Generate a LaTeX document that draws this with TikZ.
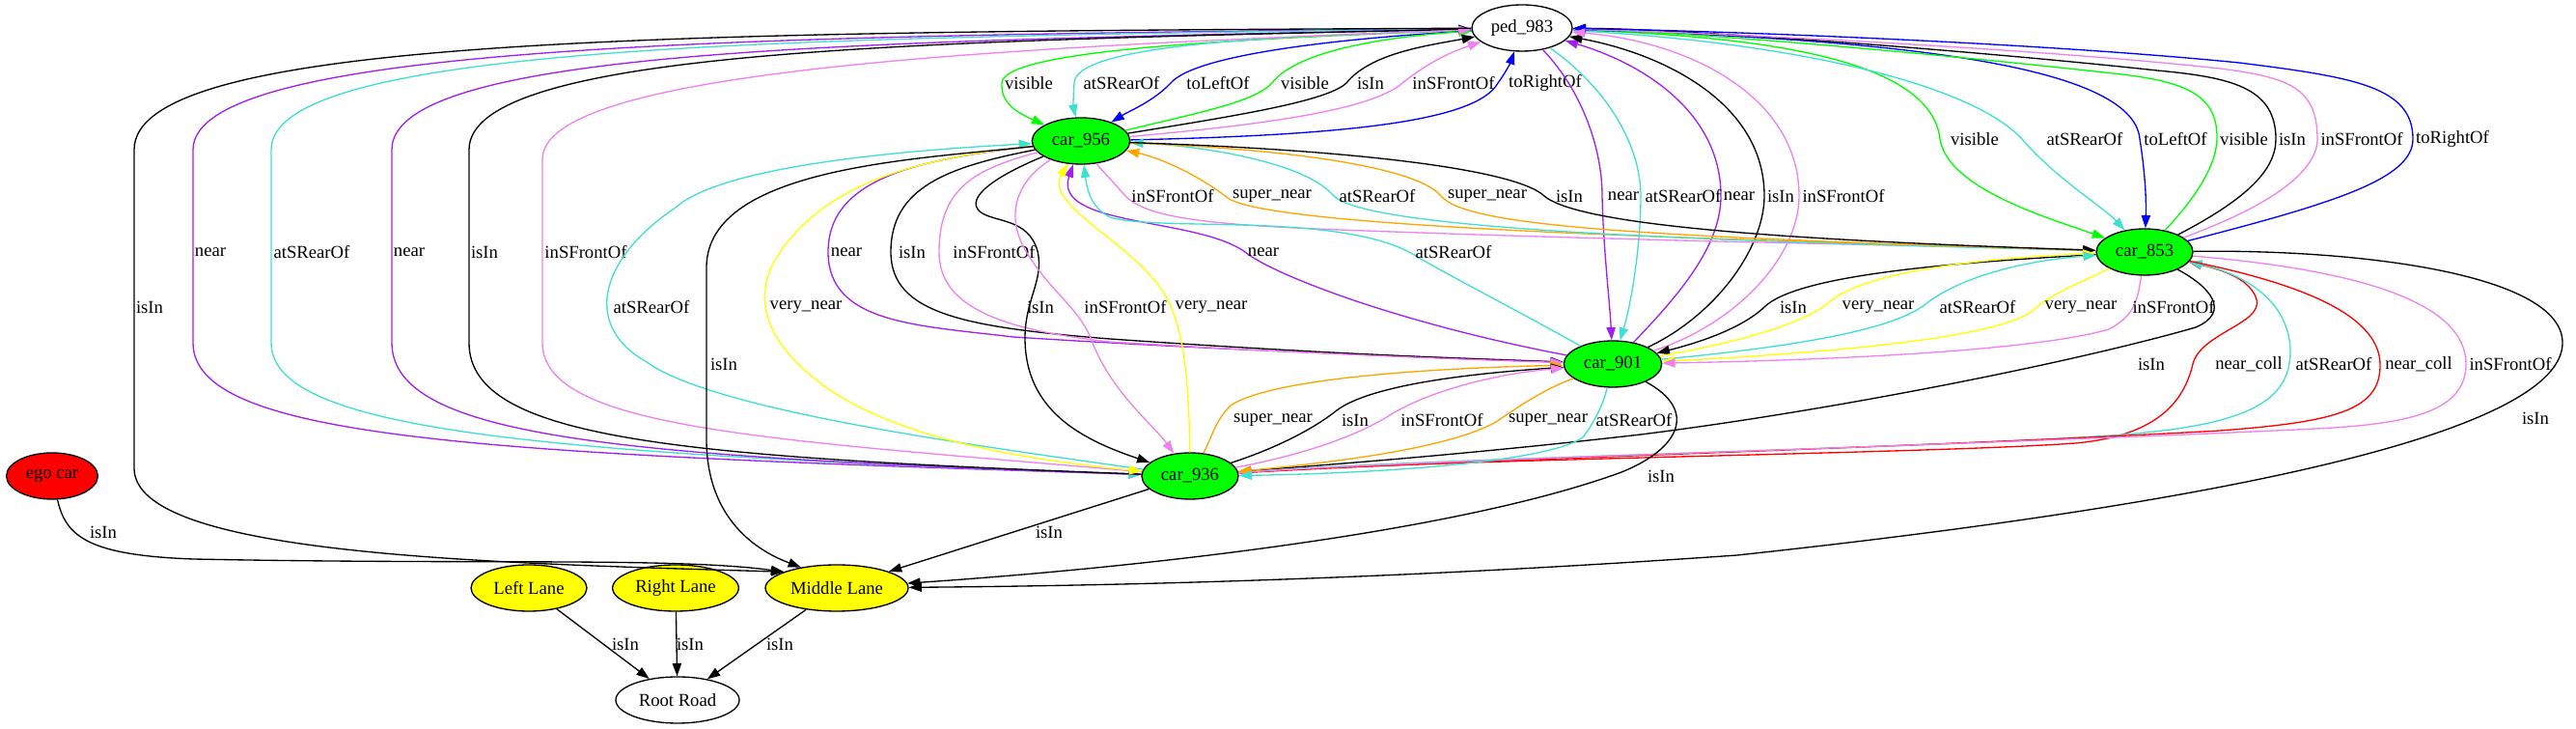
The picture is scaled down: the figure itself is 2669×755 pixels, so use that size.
\documentclass[tikz,border=0pt]{standalone}
\usepackage{fontspec}
\setmainfont{Liberation Serif}
\usetikzlibrary{shapes.geometric,arrows.meta}
\definecolor{gvgreen}{RGB}{0,255,0}
\definecolor{gvturq}{RGB}{64,224,208}
\definecolor{gvblue}{RGB}{0,0,255}
\definecolor{gvviolet}{RGB}{238,130,238}
\definecolor{gvpurple}{RGB}{160,32,240}
\definecolor{gvorange}{RGB}{255,165,0}
\definecolor{gvyellow}{RGB}{255,255,0}
\definecolor{gvred}{RGB}{255,0,0}
\begin{document}
\begin{tikzpicture}[x=0.75pt,y=0.75pt,
  gnode/.style={ellipse,draw,line width=1pt,minimum height=36pt,inner sep=0pt,font=\fontsize{14}{16}\selectfont},
  lbl/.style={font=\fontsize{14}{16}\selectfont,inner sep=0pt},
  rel/.style={line width=1pt,-{Triangle[length=10pt,width=7pt]}},
  rIsIn/.style={rel,draw=black},
  rNear/.style={rel,draw=gvpurple},
  rRear/.style={rel,draw=gvturq},
  rFront/.style={rel,draw=gvviolet},
  rVis/.style={rel,draw=gvgreen},
  rLR/.style={rel,draw=gvblue},
  rSuper/.style={rel,draw=gvorange},
  rVery/.style={rel,draw=gvyellow},
  rColl/.style={rel,draw=gvred}]
\useasboundingbox (0,0) rectangle (2669,755);
% nodes
\node[gnode,minimum width=78pt] (ped) at (1577,726) {ped\_983};
\node[gnode,fill=gvgreen,minimum width=76pt] (c956) at (1120,609) {car\_956};
\node[gnode,fill=gvgreen,minimum width=75pt] (c853) at (2222,494) {car\_853};
\node[gnode,fill=gvgreen,minimum width=76pt] (c901) at (1671,378) {car\_901};
\node[gnode,fill=gvgreen,minimum width=75pt] (c936) at (1233,262) {car\_936};
\node[gnode,fill=gvred,minimum width=71pt] (ego) at (54,262) {ego car};
\node[gnode,fill=gvyellow,minimum width=90pt] (lleft) at (548,146) {Left Lane};
\node[gnode,fill=gvyellow,minimum width=98pt] (lright) at (700,146) {Right Lane};
\node[gnode,fill=gvyellow,minimum width=111pt] (lmid) at (867,146) {Middle Lane};
\node[gnode,minimum width=96pt] (root) at (702,30) {Root Road};

% ped <-> car_956
\draw[rVis] (ped) .. controls (1300,715) and (1040,705) .. (1038,669) .. controls (1037,650) and (1050,640) .. (c956);
\draw[rRear] (ped) .. controls (1350,718) and (1115,712) .. (1113,669) .. controls (1112,655) and (1112,645) .. (c956);
\draw[rLR] (ped) .. controls (1400,716) and (1240,700) .. (1213,669) .. controls (1195,650) and (1170,640) .. (c956);
\draw[rVis] (c956) .. controls (1250,640) and (1300,650) .. (1318,669) .. controls (1345,705) and (1450,718) .. (ped);
\draw[rIsIn] (c956) .. controls (1280,635) and (1375,650) .. (1395,669) .. controls (1420,700) and (1480,708) .. (ped);
\draw[rFront] (c956) .. controls (1300,625) and (1420,640) .. (1453,669) .. controls (1480,690) and (1500,700) .. (ped);
\draw[rLR] (c956) .. controls (1400,615) and (1530,630) .. (1552,669) .. controls (1560,680) and (1565,690) .. (ped);
\node[lbl] (t1) at (1066,669) {visible};
\node[lbl] (t2) at (1162,669) {atSRearOf};
\node[lbl] (t3) at (1262,669) {toLeftOf};
\node[lbl] (t4) at (1352,669) {visible};
\node[lbl] (t5) at (1420,669) {isIn};
\node[lbl] (t6) at (1506,669) {inSFrontOf};
\node[lbl] (t7) at (1601,669) {toRightOf};

% ped <-> car_853
\draw[rVis] (ped) .. controls (1800,718) and (2000,700) .. (2010,611) .. controls (2018,560) and (2120,530) .. (c853);
\draw[rRear] (ped) .. controls (1850,712) and (2040,670) .. (2095,611) .. controls (2130,570) and (2180,540) .. (c853);
\draw[rLR] (ped) .. controls (1950,715) and (2210,690) .. (2217,611) .. controls (2222,580) and (2224,550) .. (c853);
\draw[rVis] (c853) .. controls (2270,545) and (2296,580) .. (2297,611) .. controls (2298,660) and (2260,672) .. (2180,680) .. controls (2000,700) and (1750,722) .. (ped);
\draw[rIsIn] (c853) .. controls (2330,550) and (2358,580) .. (2358,611) .. controls (2358,665) and (2310,675) .. (2235,682) .. controls (2050,702) and (1750,725) .. (ped);
\draw[rFront] (c853) .. controls (2360,545) and (2401,580) .. (2401,611) .. controls (2401,665) and (2370,675) .. (2300,684) .. controls (2100,706) and (1750,722) .. (ped);
\draw[rLR] (c853) .. controls (2420,545) and (2500,570) .. (2500,611) .. controls (2500,665) and (2440,675) .. (2320,690) .. controls (2100,712) and (1750,724) .. (ped);
\node[lbl] (t8) at (2046,611) {visible};
\node[lbl] (t9) at (2160,611) {atSRearOf};
\node[lbl] (t10) at (2254,611) {toLeftOf};
\node[lbl] (t11) at (2325,611) {visible};
\node[lbl] (t12) at (2375,611) {isIn};
\node[lbl] (t13) at (2447,611) {inSFrontOf};
\node[lbl] (t14) at (2541,611) {toRightOf};

% ped <-> car_901
\draw[rNear] (ped) .. controls (1640,660) and (1660,600) .. (1660,552) .. controls (1661,500) and (1668,440) .. (c901);
\draw[rRear] (ped) .. controls (1670,660) and (1700,600) .. (1700,552) .. controls (1700,500) and (1690,440) .. (c901);
\draw[rNear] (c901) .. controls (1740,450) and (1783,500) .. (1783,552) .. controls (1783,640) and (1700,690) .. (ped);
\draw[rIsIn] (c901) .. controls (1780,430) and (1828,500) .. (1828,552) .. controls (1828,650) and (1720,700) .. (ped);
\draw[rFront] (c901) .. controls (1800,420) and (1864,490) .. (1864,552) .. controls (1864,655) and (1750,712) .. (ped);
% car_956 <-> car_853
\draw[rFront] (c956) .. controls (1140,580) and (1155,565) .. (1166,552) .. controls (1195,522) and (1300,520) .. (1500,513) .. controls (1800,503) and (2050,500) .. (c853);
\draw[rSuper] (c853) .. controls (1900,505) and (1320,515) .. (1272,550) .. controls (1240,575) and (1200,592) .. (c956);
\draw[rRear] (c853) .. controls (1800,505) and (1420,515) .. (1382,552) .. controls (1350,590) and (1230,605) .. (c956);
\draw[rSuper] (c956) .. controls (1350,600) and (1470,580) .. (1493,552) .. controls (1520,520) and (1700,510) .. (c853);
\draw[rIsIn] (c956) .. controls (1400,600) and (1570,580) .. (1600,552) .. controls (1640,518) and (1900,505) .. (c853);
\node[lbl] (t15) at (1215,552) {inSFrontOf};
\node[lbl] (t16) at (1318,552) {super\_near};
\node[lbl] (t17) at (1427,552) {atSRearOf};
\node[lbl] (t18) at (1541,552) {super\_near};
\node[lbl] (t19) at (1626,552) {isIn};
\node[lbl] (t20) at (1682,552) {near};
\node[lbl] (t21) at (1744,552) {atSRearOf};
\node[lbl] (t22) at (1802,552) {near};
\node[lbl] (t23) at (1845,552) {isIn};
\node[lbl] (t24) at (1910,552) {inSFrontOf};

% ped <-> car_936 (far left) and ped -> Middle Lane
\draw[rNear] (ped) .. controls (800,718) and (200,712) .. (200,600) -- (200,400) .. controls (200,300) and (500,285) .. (c936);
\draw[rRear] (ped) .. controls (850,716) and (281,712) .. (281,600) -- (281,400) .. controls (281,310) and (550,285) .. (c936);
\draw[rNear] (c936) .. controls (650,282) and (406,300) .. (406,400) -- (406,600) .. controls (406,706) and (900,712) .. (ped);
\draw[rIsIn] (c936) .. controls (700,282) and (486,300) .. (486,400) -- (486,600) .. controls (486,704) and (950,712) .. (ped);
\draw[rFront] (c936) .. controls (800,300) and (562,310) .. (562,400) -- (562,590) .. controls (562,680) and (1000,705) .. (ped);
\draw[rIsIn] (ped) .. controls (700,722) and (139,718) .. (139,600) -- (139,270) .. controls (139,180) and (500,172) .. (lmid.163);
% car_956 <-> car_901
\draw[rNear] (c956) .. controls (950,590) and (858,570) .. (858,494) .. controls (858,420) and (950,418) .. (1050,406) .. controls (1300,390) and (1500,385) .. (c901);
\draw[rIsIn] (c956) .. controls (980,582) and (923,560) .. (923,494) .. controls (923,430) and (1000,416) .. (1150,404) .. controls (1350,390) and (1500,384) .. (c901);
\draw[rFront] (c956) .. controls (1010,580) and (973,560) .. (973,494) .. controls (973,440) and (1030,414) .. (1150,401) .. controls (1350,389) and (1500,383) .. (c901);
\draw[rNear] (c901) .. controls (1450,420) and (1320,470) .. (1290,494) .. controls (1240,530) and (1090,520) .. (c956);
\draw[rRear] (c901) .. controls (1560,440) and (1500,470) .. (1460,494) .. controls (1380,535) and (1200,515) .. (1150,530) .. controls (1130,540) and (1126,560) .. (c956);
\node[lbl] (t25) at (218,494) {near};
\node[lbl] (t26) at (323,494) {atSRearOf};
\node[lbl] (t27) at (424,494) {near};
\node[lbl] (t28) at (502,494) {isIn};
\node[lbl] (t29) at (607,494) {inSFrontOf};
\node[lbl] (t30) at (877,494) {near};
\node[lbl] (t31) at (945,494) {isIn};
\node[lbl] (t32) at (1030,494) {inSFrontOf};
\node[lbl] (t33) at (1309,494) {near};
\node[lbl] (t34) at (1506,494) {atSRearOf};

% car_956 <-> car_936
\draw[rRear] (c936) .. controls (1000,295) and (740,330) .. (670,380) .. controls (600,420) and (625,490) .. (700,540) .. controls (750,585) and (950,600) .. (c956);
\draw[rVery] (c956) .. controls (960,592) and (880,570) .. (830,520) .. controls (790,480) and (782,445) .. (805,405) .. controls (860,320) and (1000,285) .. (c936);
\draw[rIsIn] (c956) .. controls (1030,572) and (1000,550) .. (1015,536) .. controls (1030,524) and (1065,530) .. (1075,495) .. controls (1082,465) and (1062,445) .. (1062,405) .. controls (1062,330) and (1120,300) .. (c936);
\draw[rFront] (c956) .. controls (1060,572) and (1040,540) .. (1060,500) .. controls (1085,455) and (1115,440) .. (1130,405) .. controls (1150,350) and (1195,315) .. (c936);
\draw[rVery] (c936) .. controls (1232,340) and (1230,400) .. (1212,440) .. controls (1185,500) and (1080,540) .. (c956);
% car_853 <-> car_901
\draw[rIsIn] (c853) .. controls (2000,482) and (1860,468) .. (1828,437) .. controls (1805,415) and (1760,400) .. (c901);
\draw[rVery] (c901) .. controls (1800,400) and (1870,420) .. (1895,442) .. controls (1940,480) and (2100,490) .. (c853);
\draw[rRear] (c901) .. controls (1850,395) and (1960,412) .. (1995,440) .. controls (2040,475) and (2120,487) .. (c853);
\draw[rVery] (c853) .. controls (2150,460) and (2125,450) .. (2108,435) .. controls (2075,405) and (1900,390) .. (c901);
\draw[rFront] (c853) .. controls (2215,445) and (2212,428) .. (2185,414) .. controls (2110,392) and (1900,382) .. (c901);
\node[lbl] (t35) at (155,437) {isIn};
\node[lbl] (t36) at (675,437) {atSRearOf};
\node[lbl] (t37) at (835,437) {very\_near};
\node[lbl] (t38) at (1078,437) {isIn};
\node[lbl] (t39) at (1166,437) {inSFrontOf};
\node[lbl] (t40) at (1255,437) {very\_near};
\node[lbl] (t41) at (1858,437) {isIn};
\node[lbl] (t42) at (1946,437) {very\_near};
\node[lbl] (t43) at (2049,437) {atSRearOf};
\node[lbl] (t44) at (2156,437) {very\_near};
\node[lbl] (t45) at (2252,437) {inSFrontOf};

% car_853 <-> car_936, car_956 -> Middle Lane
\draw[rIsIn] (c956) .. controls (950,590) and (735,582) .. (732,480) -- (732,300) .. controls (732,230) and (770,190) .. (lmid.150);
\draw[rIsIn] (c853) .. controls (2290,458) and (2312,432) .. (2275,416) .. controls (2150,380) and (1900,330) .. (1700,305) .. controls (1500,282) and (1350,272) .. (c936);
\draw[rColl] (c936) .. controls (1500,280) and (2000,285) .. (2150,296) .. controls (2230,303) and (2262,335) .. (2272,378) .. controls (2280,410) and (2345,420) .. (2338,445) .. controls (2332,465) and (2305,475) .. (c853);
\draw[rRear] (c936) .. controls (1500,282) and (2000,290) .. (2200,305) .. controls (2330,315) and (2372,340) .. (2373,390) .. controls (2373,440) and (2330,470) .. (c853);
\draw[rColl] (c853) .. controls (2380,462) and (2465,430) .. (2466,378) .. controls (2467,330) and (2420,318) .. (2300,309) .. controls (2000,292) and (1500,278) .. (c936);
\draw[rFront] (c853) .. controls (2450,475) and (2555,440) .. (2555,378) .. controls (2555,330) and (2500,316) .. (2400,311) .. controls (2000,292) and (1500,280) .. (c936);
\node[lbl] (t46) at (750,378) {isIn};
\node[lbl] (t47) at (2229,378) {isIn};
\node[lbl] (t48) at (2330,378) {near\_coll};
\node[lbl] (t49) at (2418,378) {atSRearOf};
\node[lbl] (t50) at (2506,378) {near\_coll};
\node[lbl] (t51) at (2601,378) {inSFrontOf};

% car_901 <-> car_936
\draw[rSuper] (c936) .. controls (1255,300) and (1258,318) .. (1275,335) .. controls (1320,365) and (1500,374) .. (c901);
\draw[rIsIn] (c936) .. controls (1320,290) and (1360,310) .. (1385,330) .. controls (1420,356) and (1520,368) .. (c901);
\draw[rFront] (c936) .. controls (1340,282) and (1400,300) .. (1440,325) .. controls (1480,350) and (1550,368) .. (c901);
\draw[rSuper] (c901) .. controls (1600,352) and (1575,335) .. (1550,318) .. controls (1500,290) and (1380,276) .. (c936);
\draw[rRear] (c901) .. controls (1662,340) and (1655,322) .. (1640,302) .. controls (1600,274) and (1400,264) .. (c936);
\node[lbl] (t52) at (1319,320) {super\_near};
\node[lbl] (t53) at (1404,320) {isIn};
\node[lbl] (t54) at (1494,320) {inSFrontOf};
\node[lbl] (t55) at (1604,320) {super\_near};
\node[lbl] (t56) at (1693,320) {atSRearOf};

% into Middle Lane
\draw[rIsIn] (ego) .. controls (68,200) and (90,180) .. (200,176) .. controls (500,170) and (700,178) .. (lmid.163);
\draw[rIsIn] (c936) -- (lmid);
\draw[rIsIn] (c901) .. controls (1760,330) and (1740,290) .. (1680,266) .. controls (1500,200) and (1150,165) .. (lmid);
\draw[rIsIn] (c853) .. controls (2450,497) and (2655,470) .. (2655,400) .. controls (2655,330) and (2450,250) .. (1800,180) .. controls (1400,152) and (1100,148) .. (lmid);
\node[lbl] (t57) at (2627,322) {isIn};
\node[lbl] (t58) at (1721,262) {isIn};
\node[lbl] (t59) at (107,204) {isIn};
\node[lbl] (t60) at (1087,204) {isIn};

% lanes -> Root Road
\draw[rIsIn] (lleft) -- (root);
\draw[rIsIn] (lright) -- (root);
\draw[rIsIn] (lmid) -- (root);
\node[lbl] (t61) at (648,88) {isIn};
\node[lbl] (t62) at (715,88) {isIn};
\node[lbl] (t63) at (808,88) {isIn};
\end{tikzpicture}
\end{document}
